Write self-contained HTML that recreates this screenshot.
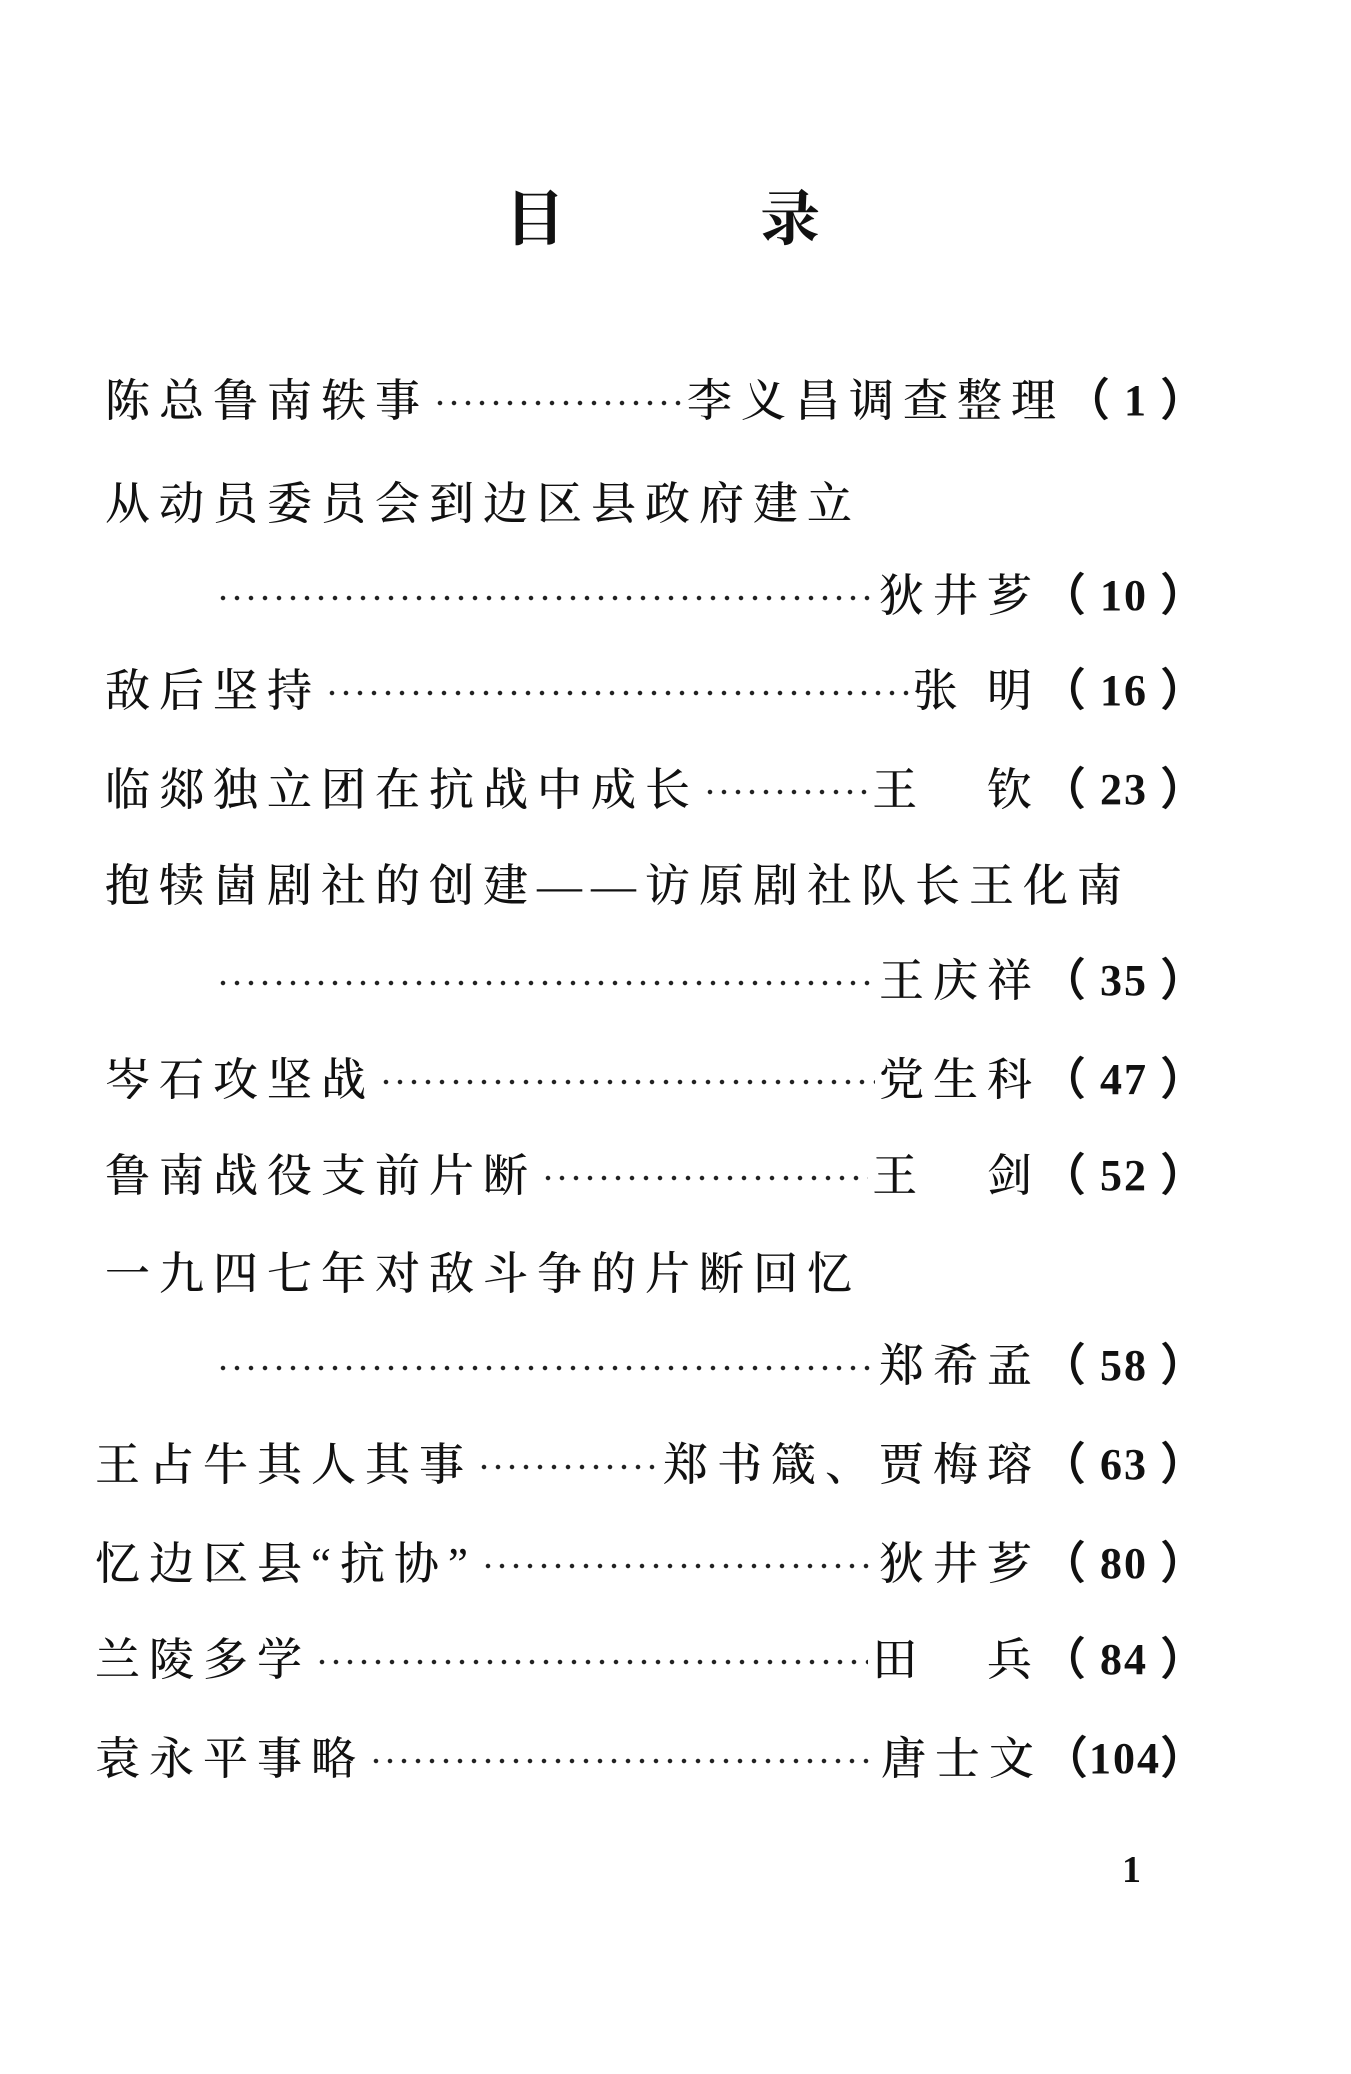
<!DOCTYPE html>
<html><head><meta charset="utf-8">
<style>
html,body{margin:0;padding:0;background:#fff;}
body{width:1351px;height:2074px;position:relative;overflow:hidden;
font-family:"Liberation Serif","Noto Serif CJK SC",serif;color:#111;}
.t{position:absolute;top:172px;font-size:60px;font-weight:bold;}
.row{position:absolute;left:105px;width:1102px;height:60px;display:flex;align-items:center;font-size:45px;letter-spacing:9px;white-space:nowrap;font-weight:500;}
.row.c{left:212px;width:995px;}
.dots{flex:1;height:10px;margin:0 4px;background-image:radial-gradient(circle,#222 2px,transparent 2.5px);background-size:14px 10px;background-repeat:repeat-x;background-position:0 60%;align-self:center;margin-top:14px;}
.r{display:flex;align-items:center;}
.p{font-family:"Liberation Serif",serif;font-size:44px;font-weight:bold;letter-spacing:2px;}
.pg{position:absolute;left:1122px;top:1848px;font-size:38px;font-weight:bold;}
</style></head><body>
<div class="t" style="left:505px">目</div>
<div class="t" style="left:760px">录</div>

<div class="row" style="top:366px"><span>陈总鲁南轶事</span><span class="dots"></span><span class="r">李义昌调查整理<span class="p">（ 1 ）</span></span></div>
<div class="row" style="top:469px"><span>从动员委员会到边区县政府建立</span></div>
<div class="row c" style="top:561px"><span class="dots"></span><span class="r">狄井芗<span class="p">（ 10 ）</span></span></div>
<div class="row" style="top:656px"><span>敌后坚持</span><span class="dots"></span><span class="r">张 明<span class="p">（ 16 ）</span></span></div>
<div class="row" style="top:755px"><span>临郯独立团在抗战中成长</span><span class="dots"></span><span class="r">王&nbsp;&nbsp;&nbsp;钦<span class="p">（ 23 ）</span></span></div>
<div class="row" style="top:851px"><span>抱犊崮剧社的创建——访原剧社队长王化南</span></div>
<div class="row c" style="top:946px"><span class="dots"></span><span class="r">王庆祥<span class="p">（ 35 ）</span></span></div>
<div class="row" style="top:1045px"><span>岑石攻坚战</span><span class="dots"></span><span class="r">党生科<span class="p">（ 47 ）</span></span></div>
<div class="row" style="top:1141px"><span>鲁南战役支前片断</span><span class="dots"></span><span class="r">王&nbsp;&nbsp;&nbsp;剑<span class="p">（ 52 ）</span></span></div>
<div class="row" style="top:1239px"><span>一九四七年对敌斗争的片断回忆</span></div>
<div class="row c" style="top:1331px"><span class="dots"></span><span class="r">郑希孟<span class="p">（ 58 ）</span></span></div>
<div class="row" style="top:1430px;left:95px;width:1112px"><span>王占牛其人其事</span><span class="dots"></span><span class="r">郑书箴、贾梅瑢<span class="p">（ 63 ）</span></span></div>
<div class="row" style="top:1529px;left:95px;width:1112px"><span>忆边区县“抗协”</span><span class="dots"></span><span class="r">狄井芗<span class="p">（ 80 ）</span></span></div>
<div class="row" style="top:1625px;left:95px;width:1112px"><span>兰陵多学</span><span class="dots"></span><span class="r">田&nbsp;&nbsp;&nbsp;兵<span class="p">（ 84 ）</span></span></div>
<div class="row" style="top:1724px;left:95px;width:1112px"><span>袁永平事略</span><span class="dots"></span><span class="r">唐士文<span class="p">（104）</span></span></div>

<div class="pg">1</div>
</body></html>
